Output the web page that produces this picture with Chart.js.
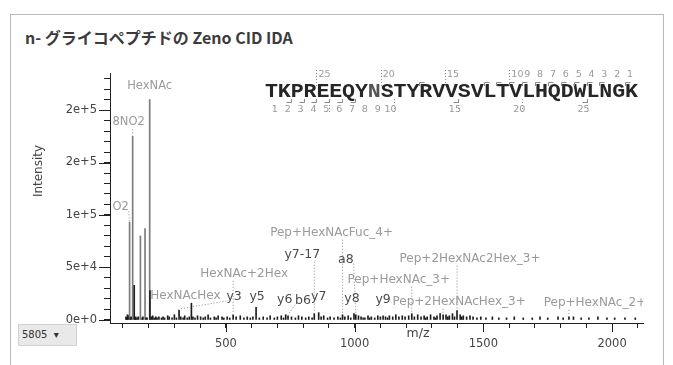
<!DOCTYPE html>
<html>
<head>
<meta charset="utf-8">
<script src="https://cdn.jsdelivr.net/npm/chart.js@4.4.1/dist/chart.umd.min.js"></script>
<style>
  body { margin: 0; background: #fff; width: 673px; height: 365px; overflow: hidden; position: relative; }
  #card { position: absolute; left: 10px; top: 14px; width: 652px; height: 380px; border: 1px solid #b8b8b8; }
  #title { position: absolute; left: 25px; top: 25px; font: bold 16px "Noto Sans CJK JP", "Noto Sans", sans-serif; color: #3c3c3c; white-space: nowrap; }
  #graph { position: absolute; left: 0; top: 0; }
  #pick { position: absolute; left: 18px; top: 324px; width: 59px; height: 22px; background: #e9e9e9; border: 1px solid #d2d2d2; box-sizing: border-box;
          font: 10px "DejaVu Sans", sans-serif; color: #333; line-height: 20px; padding-left: 3px; }
</style>
</head>
<body>
<div id="card"></div>
<div id="title">n- グライコペプチドの Zeno CID IDA</div>
<canvas id="graph" width="673" height="365"></canvas>
<div id="pick">5805 &nbsp;▾</div>
<script>
  // oxonium ions (low m/z)
  var oxoniumMz  = [126.05, 138.05, 144.07, 168.07, 186.08, 204.09, 205.09];
  var oxoniumInt = [93000, 175000, 33000, 80000, 87000, 210000, 28000];

  // annotated fragment peaks
  var ionNames = ['HexNAcHex', 'y3', 'HexNAc+2Hex', 'y5', 'y6', 'b6', 'y7-17', 'y7', 'Pep+HexNAcFuc_4+', 'a8', 'y8', 'y9',
                  'Pep+HexNAc_3+', 'Pep+2HexNAcHex_3+', 'Pep+2HexNAc2Hex_3+', 'Pep+HexNAc_2+'];
  var ionMz  = [366.14, 318.18, 528.19, 617.34, 732.37, 741.38, 843.40, 860.43, 953.24, 1004.5, 997.49, 1110.57,
                1221.96, 1343.7, 1397.7, 1832.4];
  var ionInt = [16000, 9500, 5000, 12000, 5000, 4000, 6000, 7000, 5000, 5000, 6000, 4000,
                6000, 5000, 9000, 3000];

  // small unlabelled peaks along the baseline
  var noiseMz = [112, 115, 118, 120, 129, 132, 147, 150, 155, 160, 175, 178, 190, 194,
                 210, 216, 222, 228, 233, 240, 250, 256, 262, 274, 280, 291, 300, 308, 325, 334, 340, 350, 358, 372, 380, 390,
                 402, 412, 420, 431, 440, 455, 462, 470, 485, 492,
                 505, 515, 540, 556, 570, 583, 595, 605, 630, 645, 660, 672, 688, 700, 715, 724, 755, 770, 782, 795,
                 810, 822, 835, 870, 880, 895, 905, 920, 935, 945, 962, 975, 985,
                 1015, 1025, 1033, 1040, 1052, 1058, 1065, 1078, 1090, 1100, 1120, 1128, 1135, 1148, 1160, 1172, 1185, 1196, 1210, 1232, 1245,
                 1258, 1270, 1276, 1282, 1295, 1308, 1314, 1320, 1332, 1355, 1362, 1368, 1380, 1388, 1410, 1416, 1422, 1435, 1448, 1460, 1475, 1490,
                 1510, 1535, 1560, 1590, 1620, 1655, 1690, 1720, 1750, 1790, 1810, 1850, 1880, 1910, 1945, 1980, 2010, 2050, 2090];
  var noiseInt = [3000, 2000, 5000, 4000, 2000, 3000, 2000, 3000, 2000, 3000, 2000, 3000, 2000, 2000,
                  3000, 4000, 2000, 3000, 2000, 3000, 2000, 3000, 2000, 4000, 3000, 2000, 5000, 2000, 3000, 2000, 4000, 2000, 3000, 3000, 2000, 4000,
                  3000, 2000, 3000, 5000, 2000, 3000, 2000, 4000, 3000, 2000,
                  3000, 2000, 3000, 4000, 2000, 3000, 2000, 3000, 2000, 3000, 2000, 4000, 2000, 3000, 4000, 2000, 3000, 2000, 4000, 3000,
                  2000, 3000, 2000, 3000, 4000, 2000, 3000, 2000, 3000, 2000, 3000, 4000, 2000,
                  4000, 3000, 2000, 2000, 4000, 2000, 3000, 2000, 4000, 3000, 3000, 2000, 4000, 3000, 5000, 3000, 4000, 3000, 4000, 3000, 5000,
                  3000, 4000, 2000, 3000, 5000, 3000, 2000, 4000, 6000, 5000, 3000, 4000, 6000, 3000, 5000, 3000, 4000, 3000, 4000, 3000, 2000, 3000,
                  2000, 3000, 2000, 2000, 3000, 2000, 2000, 3000, 2000, 3000, 2000, 3000, 2000, 2000, 3000, 2000, 2000, 2000, 2000];

  var xTicks = [500, 1000, 1500, 2000];
  var yTicks = [0, 50000, 100000, 150000, 200000];
  var yMinorStep = 10000, yMinorTop = 230000;

  var sequence = 'TKPREEQYNSTYRVVSVLTVLHQDWLNGK';
  var yIonMarks = [1, 3, 4, 5, 6, 7, 8, 9, 10, 11, 12, 17];
  var bIonMarks = [2, 3, 4, 5, 6, 7, 15, 25];
  var yIonNumbers = [1, 2, 3, 4, 5, 6, 7, 8, 9, 10, 15, 20, 25];
  var bIonNumbers = [1, 2, 3, 4, 5, 6, 7, 8, 9, 10, 15, 20, 25];

  // label layout: which oxonium peaks get labels, and pixel offsets of every label from its peak
  var oxoLabels = [[5, 'HexNAc', 0, -13.5, false], [1, '8NO2', -4, -14, true], [0, 'O2', -9, -15, true]];
  var ionOffsets = [[-6, -7], [55, -13], [11, -41], [1, -11], [-1, -15], [15, -15], [-12, -59], [0, -16], [-11, -82], [-10, -55],
                    [-2, -15], [0, -16], [-13, -34], [16, -13], [13, -52], [26, -14]];
  var ionLeader = [false, true, true, false, false, true, true, false, true, true, false, false, true, true, true, true];

  var peaks = [];
  oxoniumMz.forEach(function (m, i) { peaks.push({x: m, y: oxoniumInt[i]}); });
  ionMz.forEach(function (m, i) { peaks.push({x: m, y: ionInt[i]}); });
  noiseMz.forEach(function (m, i) { peaks.push({x: m, y: noiseInt[i]}); });

  function line(ctx, x1, y1, x2, y2) {
    ctx.beginPath(); ctx.moveTo(x1, y1); ctx.lineTo(x2, y2); ctx.stroke();
  }

  var annotate = {
    id: 'annotate',
    afterDatasetsDraw: function (chart) {
      var ctx = chart.ctx, a = chart.chartArea, xs = chart.scales.x, ys = chart.scales.y;
      var items = [];
      oxoLabels.forEach(function (o) {
        items.push({mz: oxoniumMz[o[0]], v: oxoniumInt[o[0]], text: o[1], dx: o[2], dy: o[3], lead: o[4], color: '#9a9a9a', size: 11.5});
      });
      ionNames.forEach(function (n, i) {
        var pep = /^[aby]\d/.test(n);
        items.push({mz: ionMz[i], v: ionInt[i], text: n, dx: ionOffsets[i][0], dy: ionOffsets[i][1], lead: ionLeader[i],
                    color: pep ? '#4c4c4c' : '#9a9a9a', size: pep ? 12.5 : 12});
      });
      ctx.save();
      ctx.beginPath(); ctx.rect(a.left + 1, a.top, a.right - a.left - 1, a.bottom - a.top); ctx.clip();
      ctx.textAlign = 'center'; ctx.textBaseline = 'middle';
      items.forEach(function (it) {
        var px = xs.getPixelForValue(it.mz), py = ys.getPixelForValue(it.v);
        var lx = px + it.dx, ly = py + it.dy;
        ctx.font = it.size + 'px "DejaVu Sans"';
        var w = ctx.measureText(it.text).width;
        if (it.lead) {
          ctx.strokeStyle = '#8c8c8c'; ctx.lineWidth = 1; ctx.setLineDash([1, 2]);
          var sx = Math.max(lx - w / 2, Math.min(lx + w / 2, px));
          var sy = (sx === px) ? ly + 7 : ly + 4;
          line(ctx, sx, sy, px, py - 1);
          ctx.setLineDash([]);
        }
        ctx.fillStyle = it.color;
        ctx.fillText(it.text, lx, ly);
      });
      ctx.restore();
    },
    afterDraw: function (chart) {
      var ctx = chart.ctx, a = chart.chartArea, xs = chart.scales.x, ys = chart.scales.y;
      ctx.save();
      // longer major ticks
      ctx.strokeStyle = '#222'; ctx.lineWidth = 1;
      yTicks.forEach(function (v) {
        var p = Math.round(ys.getPixelForValue(v)) + 0.5;
        line(ctx, a.left - 11, p, a.left, p);
      });
      xTicks.forEach(function (v) {
        var p = Math.round(xs.getPixelForValue(v)) + 0.5;
        line(ctx, p, a.bottom, p, a.bottom + 9);
      });
      // axis titles
      ctx.fillStyle = '#444'; ctx.textAlign = 'center'; ctx.textBaseline = 'middle';
      ctx.font = '12.5px "DejaVu Sans"';
      ctx.fillText('m/z', 418, 334);
      ctx.font = '12px "DejaVu Sans"';
      ctx.translate(39, 171); ctx.rotate(-Math.PI / 2);
      ctx.fillText('Intensity', 0, 0);
      ctx.restore();

      // peptide sequence with fragment coverage
      var left = 265, step = 12.86, base = 97;
      ctx.save();
      ctx.font = 'bold 20px "Liberation Mono"';
      ctx.textAlign = 'center'; ctx.textBaseline = 'alphabetic';
      for (var i = 0; i < sequence.length; i++) {
        ctx.fillStyle = i === 8 ? '#555' : '#262626';
        ctx.save();
        ctx.translate(left + (i + 0.5) * step, base);
        ctx.scale(1.08, 1);
        ctx.fillText(sequence[i], 0, 0);
        ctx.restore();
      }
      ctx.strokeStyle = '#8a8a8a'; ctx.lineWidth = 1;
      yIonMarks.forEach(function (n) {
        var x = Math.round(left + (sequence.length - n) * step) + 0.5;
        ctx.beginPath(); ctx.moveTo(x, 86); ctx.lineTo(x, 82.5); ctx.lineTo(x + 5, 82.5); ctx.stroke();
      });
      bIonMarks.forEach(function (n) {
        var x = Math.round(left + n * step) + 0.5;
        ctx.beginPath(); ctx.moveTo(x, 99); ctx.lineTo(x, 102.5); ctx.lineTo(x - 5, 102.5); ctx.stroke();
      });
      ctx.setLineDash([1, 2]);
      [25, 20, 15, 10].forEach(function (n) {
        var x = Math.round(left + (sequence.length - n) * step) + 0.5;
        line(ctx, x, 70, x, 86);
      });
      [5, 10, 15, 20, 25].forEach(function (n) {
        var x = Math.round(left + n * step) + 0.5;
        line(ctx, x, 99, x, 114);
      });
      ctx.setLineDash([]);
      ctx.fillStyle = '#9a9a9a'; ctx.font = '9.5px "DejaVu Sans"'; ctx.textBaseline = 'middle';
      ctx.textAlign = 'left';
      yIonNumbers.forEach(function (n) {
        ctx.fillText(String(n), left + (sequence.length - n) * step + 2, 75);
      });
      ctx.textAlign = 'center';
      bIonNumbers.forEach(function (n) {
        ctx.fillText(String(n), left + n * step - 3, 110);
      });
      ctx.restore();
    }
  };

  var tickFont = {family: 'DejaVu Sans', size: 11.5};
  var chartConfig = {
    type: 'bar',
    data: {
      datasets: [{
        data: peaks,
        barThickness: 1,
        grouped: false,
        backgroundColor: function (c) { return c.raw && c.raw.y > 60000 ? '#7c7c7c' : '#1c1c1c'; }
      }]
    },
    options: {
      responsive: false,
      animation: false,
      layout: { padding: { left: 28, right: 30, top: 73, bottom: 12 } },
      plugins: { legend: { display: false }, tooltip: { enabled: false } },
      scales: {
        x: {
          type: 'linear', min: 50, max: 2120, offset: false,
          border: { color: '#222' },
          grid: { drawOnChartArea: false, offset: false, tickLength: 5, color: '#222' },
          ticks: { stepSize: 100, includeBounds: false, autoSkip: false, maxRotation: 0, padding: 9, color: '#444', font: tickFont,
                   callback: function (v) { return v % 500 === 0 ? String(v) : ''; } },
          afterFit: function (s) { s.height = 30; }
        },
        y: {
          min: -2860, max: 235240,
          border: { color: '#222' },
          grid: { drawOnChartArea: false, tickLength: 6, color: '#222' },
          ticks: { autoSkip: false, padding: 7, color: '#444', font: tickFont,
                   callback: function (v) { return v % 50000 === 0 ? v.toExponential(0) : ''; } },
          afterBuildTicks: function (s) {
            var t = [];
            for (var v = 0; v <= yMinorTop; v += yMinorStep) t.push({value: v});
            s.ticks = t;
          },
          afterFit: function (s) { s.width = 82; }
        }
      }
    },
    plugins: [annotate]
  };
  var graph = new Chart(document.getElementById('graph'), chartConfig);
</script>
</body>
</html>
